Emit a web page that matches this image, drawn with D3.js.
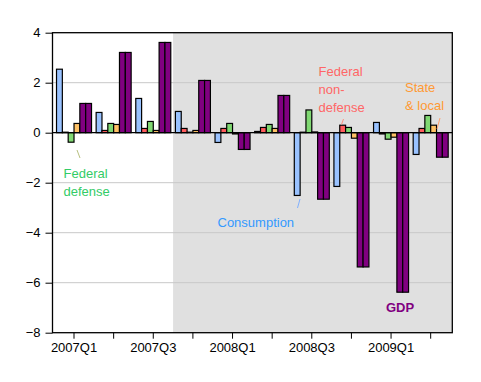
<!DOCTYPE html>
<html><head><meta charset="utf-8">
<script src="https://cdn.jsdelivr.net/npm/d3@7"></script>
<style>body{margin:0;background:#fff}svg{display:block}text{font-family:"Liberation Sans",Arial,sans-serif}</style>
</head><body><div id="chart"></div>
<script>
const quarters = ["2007Q1","2007Q2","2007Q3","2007Q4","2008Q1","2008Q2","2008Q3","2008Q4","2009Q1","2009Q2"];
const consumption = [2.54, 0.81, 1.37, 0.85, -0.39, 0.05, -2.51, -2.15, 0.41, -0.87];
const nondefense  = [0.02, 0.09, 0.17, 0.17, 0.17, 0.21, 0.02, 0.30, -0.05, 0.17];
const defense     = [-0.38, 0.37, 0.45, 0.02, 0.37, 0.33, 0.91, 0.21, -0.26, 0.69];
const stateLocal  = [0.37, 0.33, 0.09, 0.09, -0.05, 0.17, 0.03, -0.22, -0.18, 0.30];
const gdp         = [1.17, 3.21, 3.61, 2.09, -0.67, 1.49, -2.66, -5.37, -6.38, -0.98];
const yTicks = [4, 2, 0, -2, -4, -6, -8];
const xLabels = ["2007Q1","2007Q3","2008Q1","2008Q3","2009Q1"];
const recessionStart = "2007Q4";

const W = 481, H = 382;
const plot = {left: 52.5, right: 452.3, top: 32.7, bottom: 332.7};
const svg = d3.select("#chart").append("svg").attr("width", W).attr("height", H);

const y = d3.scaleLinear().domain([-8, 4]).range([plot.bottom, plot.top]);
const x = d3.scaleBand().domain(quarters).range([54.2, 450.5]).padding(0);
const slots = ["c","n","d","s","g1","g2"];
const inner = d3.scaleBand().domain(slots).range([0, 35]);
const groupOffset = x.bandwidth()/2 - 17.5;

// recession shading
svg.append("rect")
  .attr("x", x(recessionStart)).attr("y", plot.top)
  .attr("width", plot.right - x(recessionStart)).attr("height", plot.bottom - plot.top)
  .attr("fill", "#e0e0e0");

// gridlines
svg.append("g").selectAll("line").data(yTicks.filter(v => v !== 0 && v !== 4 && v !== -8)).join("line")
  .attr("x1", plot.left).attr("x2", plot.right)
  .attr("y1", d => y(d)).attr("y2", d => y(d))
  .attr("stroke", "#c8c8c8").attr("stroke-width", 1);

const series = [
  {key:"c", vals: consumption, color:"#99c2ff"},
  {key:"n", vals: nondefense, color:"#ff5c5c"},
  {key:"d", vals: defense, color:"#80d872"},
  {key:"s", vals: stateLocal, color:"#ffc266"},
  {key:"g1", vals: gdp, color:"#800080"},
  {key:"g2", vals: gdp, color:"#800080"}
];
const bars = svg.append("g");
series.forEach(s => {
  bars.selectAll(null).data(quarters.map((q,i) => ({q, v: s.vals[i]}))).join("rect")
    .attr("x", d => x(d.q) + groupOffset + inner(s.key))
    .attr("width", inner.bandwidth())
    .attr("y", d => y(Math.max(0, d.v)))
    .attr("height", d => Math.abs(y(d.v) - y(0)))
    .attr("fill", s.color).attr("stroke", "#000").attr("stroke-width", 1.2);
});

// zero line
svg.append("line").attr("x1", plot.left).attr("x2", plot.right)
  .attr("y1", y(0)).attr("y2", y(0)).attr("stroke", "#000").attr("stroke-width", 1.2);

// frame
svg.append("rect").attr("x", plot.left).attr("y", plot.top)
  .attr("width", plot.right - plot.left).attr("height", plot.bottom - plot.top)
  .attr("fill", "none").attr("stroke", "#000").attr("stroke-width", 1.3);

// y axis
const yAxis = d3.axisLeft(y).tickValues(yTicks).tickSize(7).tickPadding(5).tickFormat(d3.format("d"));
const yg = svg.append("g").attr("transform", `translate(${plot.left},0)`).call(yAxis);
yg.select(".domain").remove();
yg.selectAll("text").attr("font-size", 13).attr("fill", "#000").style("font-family", "'Liberation Sans',Arial,sans-serif");
yg.selectAll("line").attr("stroke", "#000");

// x axis
const xAxis = d3.axisBottom(x).tickSize(6).tickPadding(4).tickFormat(d => xLabels.includes(d) ? d : "");
const xg = svg.append("g").attr("transform", `translate(0,${plot.bottom})`).call(xAxis);
xg.select(".domain").remove();
xg.selectAll("text").attr("font-size", 13).attr("fill", "#000").style("font-family", "'Liberation Sans',Arial,sans-serif");
xg.selectAll("line").attr("stroke", "#000");

// annotations
function label(lines, x0, y0, color, lh, bold) {
  const t = svg.append("text").attr("x", x0).attr("y", y0).attr("fill", color)
    .attr("font-size", 13).attr("font-weight", bold ? "bold" : "normal");
  lines.forEach((l, i) => t.append("tspan").attr("x", x0).attr("dy", i ? lh : 0).text(l));
}
function leader(x1, y1, x2, y2, color) {
  svg.append("line").attr("x1", x1).attr("y1", y1).attr("x2", x2).attr("y2", y2)
    .attr("stroke", color).attr("stroke-width", 1);
}
label(["Federal", "defense"], 63.5, 178, "#33cc66", 17.5);
leader(77, 150, 80, 158, "#b8c080");
label(["Consumption"], 217.5, 226.5, "#3399ff", 0);
leader(300, 199, 297.5, 208, "#80b0ff");
label(["Federal", "non-", "defense"], 318.5, 76, "#ff6666", 18);
leader(343.5, 119, 341.5, 124.5, "#ff9080");
label(["State", "& local"], 405, 92, "#ff9933", 17.5);
leader(440, 118, 437, 129, "#ffa070");
label(["GDP"], 386, 311.5, "#800080", 0, true);
</script></body></html>
